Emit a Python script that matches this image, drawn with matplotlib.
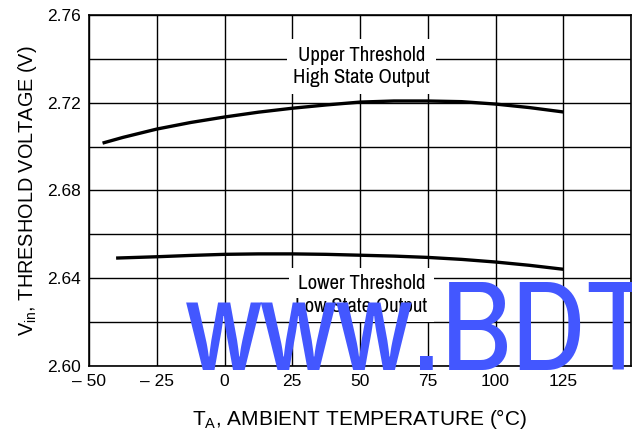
import matplotlib
matplotlib.use("Agg")
import matplotlib.pyplot as plt
from matplotlib.ticker import MultipleLocator

plt.rcParams['font.family'] = ['Liberation Sans', 'DejaVu Sans']
plt.rcParams['mathtext.fontset'] = 'custom'
plt.rcParams['mathtext.rm'] = 'Liberation Sans'

NARROW = ['Archivo Narrow', 'Liberation Sans']

# readings
t_upper = [-45, -37.5, -25, -12.5, 0, 12.5, 25, 37.5, 50, 62.5, 75, 87.5, 100, 112.5, 125]
v_upper = [2.7016, 2.7042, 2.7080, 2.7110, 2.7135, 2.7157, 2.7175, 2.7190, 2.7203,
           2.7208, 2.7208, 2.7205, 2.7194, 2.7178, 2.7158]
t_lower = [-40, -25, -12.5, 0, 12.5, 25, 37.5, 50, 62.5, 75, 87.5, 100, 112.5, 125]
v_lower = [2.6492, 2.6498, 2.6504, 2.6509, 2.6511, 2.6511, 2.6509, 2.6505, 2.6501,
           2.6495, 2.6486, 2.6474, 2.6459, 2.6441]

x_ticks = [-50, -25, 0, 25, 50, 75, 100, 125, 150]
x_labels = ['\u2013 50', '\u2013 25', '0', '25', '50', '75', '100', '125', '']
y_ticks = [2.60, 2.64, 2.68, 2.72, 2.76]
y_labels = ['2.60', '2.64', '2.68', '2.72', '2.76']

fig = plt.figure(figsize=(6.32, 4.36), dpi=100)
ax = fig.add_axes([89 / 632, 70 / 436, 542 / 632, 351 / 436])

ax.plot(t_upper, v_upper, color='black', linewidth=2.4, solid_capstyle='butt', zorder=3)
ax.plot(t_lower, v_lower, color='black', linewidth=2.4, solid_capstyle='butt', zorder=3)

ax.set_xlim(-50, 150)
ax.set_ylim(2.60, 2.76)
ax.set_xticks(x_ticks)
ax.set_xticklabels(x_labels)
ax.set_yticks(y_ticks)
ax.set_yticklabels(y_labels)
ax.yaxis.set_minor_locator(MultipleLocator(0.02))
ax.tick_params(which='both', length=0, labelsize=12.5, pad=6, colors='black')
ax.grid(True, which='both', color='black', linewidth=1.0)
for s in ax.spines.values():
    s.set_linewidth(1.2)

ax.set_xlabel('T$_\\mathrm{A}$, AMBIENT TEMPERATURE (\u00b0C)', fontsize=15, labelpad=13)
ax.set_ylabel('V$_\\mathrm{in}$, THRESHOLD VOLTAGE (V)', fontsize=14.3, labelpad=6)

box = dict(boxstyle='square,pad=0.3', facecolor='white', edgecolor='none')
ax.text(50.5, 2.7365, 'Upper Threshold\nHigh State Output', ha='center', va='center',
        fontsize=15, family=NARROW, linespacing=1.25, bbox=box, zorder=4)
ax.text(50.5, 2.6324, 'Lower Threshold\nLow State Output', ha='center', va='center',
        fontsize=15, family=NARROW, linespacing=1.25, bbox=box, zorder=4)

# watermark
fig.text(186 / 632, 66 / 436, 'www.BDTIC.com', ha='left', va='baseline',
         fontsize=92, color='#4357FF', family=NARROW, zorder=10)

fig.savefig('out.png', dpi=100)
